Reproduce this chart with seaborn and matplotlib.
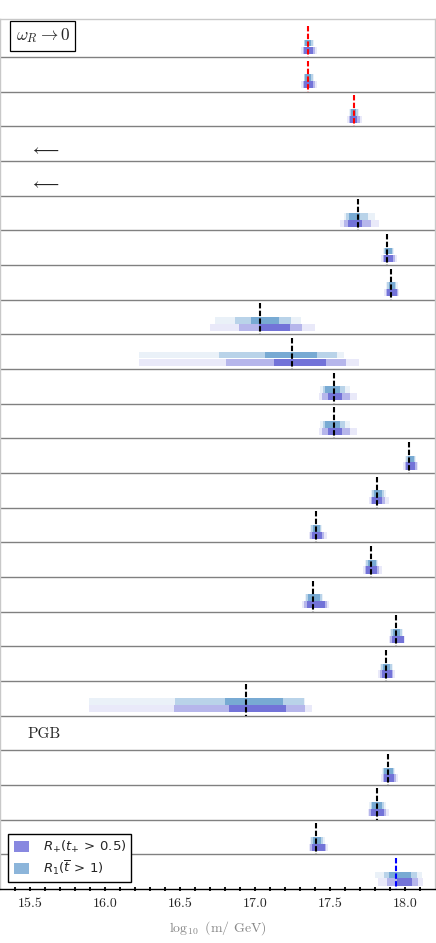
import matplotlib
matplotlib.use('Agg')
import matplotlib.pyplot as plt
import seaborn as sns
from matplotlib.patches import Patch
from matplotlib.font_manager import FontProperties

# rows from top to bottom; None = row without bars
# each interval tuple: (outer_lo, mid_lo, inner_lo, inner_hi, mid_hi, outer_hi)
blue_R1 = [
    (17.322, 17.328, 17.335, 17.373, 17.384, 17.395),
    (17.322, 17.328, 17.335, 17.373, 17.384, 17.395),
    (17.627, 17.634, 17.641, 17.671, 17.683, 17.695),
    None,
    None,
    (17.589, 17.607, 17.627, 17.700, 17.751, 17.796),
    (17.851, 17.859, 17.867, 17.911, 17.919, 17.927),
    (17.873, 17.882, 17.891, 17.933, 17.941, 17.949),
    (16.729, 16.862, 16.973, 17.160, 17.238, 17.305),
    (16.222, 16.755, 17.062, 17.413, 17.547, 17.593),
    (17.429, 17.449, 17.467, 17.567, 17.600, 17.633),
    (17.429, 17.449, 17.467, 17.567, 17.600, 17.633),
    (18.000, 18.008, 18.016, 18.056, 18.065, 18.073),
    (17.771, 17.780, 17.789, 17.844, 17.859, 17.873),
    (17.367, 17.374, 17.382, 17.429, 17.437, 17.444),
    (17.733, 17.741, 17.749, 17.807, 17.815, 17.822),
    (17.333, 17.341, 17.349, 17.429, 17.442, 17.455),
    (17.900, 17.908, 17.916, 17.967, 17.976, 17.985),
    (17.833, 17.841, 17.849, 17.900, 17.909, 17.918),
    (15.893, 16.467, 16.800, 17.185, 17.322, 17.333),
    None,
    (17.844, 17.853, 17.862, 17.918, 17.926, 17.933),
    (17.762, 17.770, 17.778, 17.844, 17.859, 17.873),
    (17.367, 17.374, 17.382, 17.440, 17.451, 17.462),
    (17.800, 17.860, 17.889, 18.038, 18.078, 18.111),
]
purple_Rp = [
    (17.307, 17.317, 17.327, 17.384, 17.397, 17.411),
    (17.307, 17.317, 17.327, 17.384, 17.397, 17.411),
    (17.611, 17.623, 17.635, 17.680, 17.697, 17.713),
    None,
    None,
    (17.567, 17.595, 17.622, 17.715, 17.773, 17.827),
    (17.838, 17.849, 17.860, 17.922, 17.933, 17.945),
    (17.860, 17.869, 17.878, 17.945, 17.953, 17.962),
    (16.700, 16.893, 17.022, 17.229, 17.315, 17.400),
    (16.227, 16.807, 17.127, 17.475, 17.607, 17.693),
    (17.422, 17.444, 17.484, 17.578, 17.633, 17.682),
    (17.422, 17.444, 17.484, 17.578, 17.633, 17.682),
    (17.984, 17.996, 18.007, 18.067, 18.078, 18.089),
    (17.756, 17.769, 17.782, 17.844, 17.867, 17.889),
    (17.356, 17.367, 17.378, 17.444, 17.461, 17.478),
    (17.718, 17.729, 17.740, 17.811, 17.828, 17.844),
    (17.311, 17.328, 17.344, 17.462, 17.479, 17.495),
    (17.889, 17.900, 17.911, 17.989, 17.995, 18.000),
    (17.822, 17.833, 17.844, 17.911, 17.922, 17.933),
    (15.889, 16.456, 16.827, 17.202, 17.329, 17.378),
    None,
    (17.838, 17.849, 17.860, 17.927, 17.938, 17.949),
    (17.749, 17.760, 17.771, 17.856, 17.872, 17.889),
    (17.356, 17.367, 17.378, 17.462, 17.473, 17.484),
    (17.822, 17.878, 17.944, 18.049, 18.089, 18.122),
]
# reference value (dashed line) per row
ref_mass = [17.353, 17.353, 17.656, None, None, 17.684, 17.882, 17.907,
            17.033, 17.247, 17.522, 17.522, 18.029, 17.811, 17.407, 17.773,
            17.384, 17.938, 17.869, 16.938, None, 17.884, 17.809, 17.407,
            17.938]
ref_kind = ['red', 'red', 'red', None, None] + ['black'] * 15 + [None] + ['black'] * 3 + ['blue']

arrow_rows = [3, 4]
pgb_row = 20
x_ticks = [15.5, 16.0, 16.5, 17.0, 17.5, 18.0]
x_ticklabels = ['15.5', '16.0', '16.5', '17.0', '17.5', '18.0']
legend_labels = [r'$R_{+}(t_{+}\,>\,0.5)$', r'$R_1(\overline{t}\,>\,1)$']

# estilo
sns.set_style('white')
plt.rcParams['font.family'] = ['serif']
plt.rcParams['font.serif'] = ['cmr10', 'DejaVu Serif']
plt.rcParams['mathtext.fontset'] = 'cm'
plt.rcParams['axes.formatter.use_mathtext'] = True

purple_shades = ['#e9e9f9', '#b6b6eb', '#7373d8']
blue_shades = ['#eaf1f8', '#b9d3e9', '#78aad3']
line_colors = {'red': '#ff0000', 'black': '#000000', 'blue': '#0000ff'}

fig = plt.figure(figsize=(4.36, 9.43), dpi=100)
ax = fig.add_axes([0.001, 1 - 889 / 943, 0.997, 870 / 943])

n_rows = len(ref_mass)


def draw_interval(ax, y, iv, shades, h):
    # outer -> mid -> inner, each drawn on top of the previous
    for lvl in range(3):
        lo, hi = iv[lvl], iv[5 - lvl]
        ax.barh(y, hi - lo, left=lo, height=h, color=shades[lvl],
                edgecolor='none', zorder=2 + lvl)


for i in range(n_rows):
    if blue_R1[i] is not None:
        draw_interval(ax, i + 0.095, blue_R1[i], blue_shades, 0.19)
    if purple_Rp[i] is not None:
        draw_interval(ax, i + 0.30, purple_Rp[i], purple_shades, 0.21)
    if ref_mass[i] is not None:
        ax.vlines(ref_mass[i], i - 0.4, i + 0.5, colors=line_colors[ref_kind[i]],
                  linestyles=(0, (2.6, 1.1)), linewidth=1.5, zorder=6)

# separadores de filas
for i in range(n_rows - 1):
    ax.axhline(i + 0.5, color='#808080', lw=1.0, zorder=1)

for r in arrow_rows:
    ax.text(15.6, r + 0.15, r'$\longleftarrow$', fontsize=12, ha='center', va='center')
ax.text(15.48, pgb_row + 0.03, 'PGB', fontsize=11, ha='left', va='center')
ax.text(15.583, -0.11, r'$\omega_R \rightarrow 0$', fontsize=12.5, ha='center', va='center',
        bbox=dict(boxstyle='square,pad=0.3', facecolor='white', edgecolor='black', lw=0.9))

ax.set_xlim(15.3, 18.2)
ax.set_ylim(24.5, -0.6)
ax.set_yticks([])
ax.set_xticks(x_ticks)
ax.set_xticks([x / 10 for x in range(154, 182)], minor=True)
ax.set_xticklabels(x_ticklabels)
ax.tick_params(axis='x', which='both', direction='inout', length=2.5, width=1.3,
               bottom=True, labelsize=10, pad=5, color='black')
ax.set_xlabel(r'$\log_{10}$ (m/ GeV)', fontsize=10, color='#888888', labelpad=7)

for side in ['left', 'right', 'top']:
    ax.spines[side].set_color('#c8c8c8')
    ax.spines[side].set_linewidth(1.0)
ax.spines['bottom'].set_color('black')
ax.spines['bottom'].set_linewidth(1.0)

handles = [Patch(facecolor='#8888e0', edgecolor='none'),
           Patch(facecolor='#8cb5da', edgecolor='none')]
leg = ax.legend(handles, legend_labels, loc='lower left', bbox_to_anchor=(0.018, 0.008),
                borderaxespad=0, fancybox=False, framealpha=1, edgecolor='black',
                handlelength=1.2, handleheight=0.9, handletextpad=1.0,
                prop=FontProperties(family='DejaVu Sans', size=9.5, math_fontfamily='dejavusans'),
                labelspacing=0.25, borderpad=0.4)
leg.get_frame().set_linewidth(1.0)
leg.set_zorder(10)

fig.savefig('out.png', dpi=100)
